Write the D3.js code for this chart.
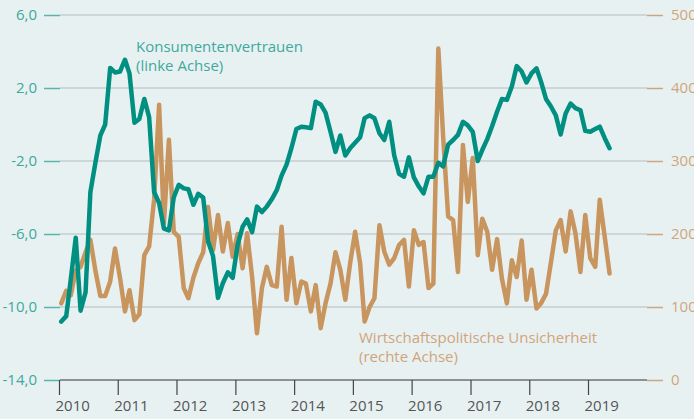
<!DOCTYPE html>
<html>
<head>
<meta charset="utf-8">
<script src="https://cdn.jsdelivr.net/npm/d3@7"></script>
<style>
  html, body { margin: 0; padding: 0; background: #e8f1f2; }
  svg text { font-family: "Open Sans", "Noto Sans", sans-serif; }
</style>
</head>
<body>
<div id="chart-area"></div>
<script>
// DATA
// =================
var startMonth = '2010-01';
var yearTicks = [2010, 2011, 2012, 2013, 2014, 2015, 2016, 2017, 2018, 2019];
var leftTicks = [6, 2, -2, -6, -10, -14];
var rightTicks = [500, 400, 300, 200, 100, 0];

// Konsumentenvertrauen (linke Achse), monthly from Jan 2010
var vertrauen = [
    -10.8, -10.5, -8.5, -6.2, -10.2, -9.2, -3.7, -2.1, -0.6, 0.0, 3.1, 2.85,
    2.9, 3.55, 2.8, 0.1, 0.3, 1.4, 0.4, -3.7, -4.3, -5.7, -5.8, -4.0,
    -3.3, -3.5, -3.55, -4.4, -3.8, -4.0, -6.4, -7.2, -9.5, -8.7, -8.1, -8.4,
    -6.6, -5.6, -5.2, -5.9, -4.5, -4.8, -4.5, -4.1, -3.6, -2.8, -2.2, -1.3,
    -0.25, -0.12, -0.15, -0.2, 1.25, 1.1, 0.65, -0.4, -1.5, -0.6, -1.7, -1.3,
    -1.0, -0.7, 0.35, 0.5, 0.34, -0.48, -0.85, 0.15, -1.7, -2.7, -2.86, -1.8,
    -2.9, -3.4, -3.77, -2.86, -2.86, -2.1, -2.3, -1.1, -0.85, -0.57, 0.15, -0.05,
    -0.4, -2.0, -1.4, -0.8, -0.1, 0.7, 1.4, 1.35, 2.1, 3.2, 2.9, 2.3,
    2.8, 3.08, 2.35, 1.4, 1.0, 0.5, -0.55, 0.6, 1.15, 0.9, 0.78, -0.35,
    -0.4, -0.25, -0.12, -0.75, -1.3
];

// Wirtschaftspolitische Unsicherheit (rechte Achse), monthly from Jan 2010
var unsicherheit = [
    105, 122, 116, 150, 155, 175, 192, 150, 115, 115, 135, 180,
    140, 94, 123, 82, 90, 171, 183, 247, 377, 215, 329, 203,
    196, 126, 112, 140, 160, 175, 237, 178, 226, 176, 215, 169,
    200, 153, 201, 141, 64, 126, 155, 130, 128, 210, 110, 167,
    105, 135, 132, 94, 130, 71, 105, 132, 175, 151, 110, 160,
    203, 160, 80, 100, 112, 212, 176, 158, 167, 185, 192, 128,
    205, 185, 189, 126, 132, 454, 333, 224, 219, 148, 322, 244,
    304, 171, 221, 203, 151, 193, 139, 105, 164, 141, 191, 110,
    151, 98, 105, 118, 160, 205, 219, 176, 231, 201, 148, 226,
    167, 155, 247, 196, 146
];

// CANVAS
// =================
var W = 694, H = 419;
var plotLeft = 60, plotRight = 647, plotTop = 15, plotBottom = 380;

var svg = d3.select('#chart-area')
    .append('svg')
        .attr('width', W)
        .attr('height', H);

var parseMonth = d3.timeParse('%Y-%m');
var months = d3.timeMonth.range(parseMonth(startMonth),
    d3.timeMonth.offset(parseMonth(startMonth), vertrauen.length))
    .map(d => d3.timeDay.offset(d, 14));

var x = d3.scaleTime()
    .domain([new Date(2010, 0, 1), new Date(2019, 0, 1)])
    .range([59, 588]);

var yL = d3.scaleLinear().domain([-14, 6]).range([plotBottom, plotTop]);
var yR = d3.scaleLinear().domain([0, 500]).range([plotBottom, plotTop]);

// GRID + Y AXES
// =================
svg.append('g')
    .selectAll('line')
    .data(leftTicks.filter(d => d !== -14))
    .enter().append('line')
        .attr('x1', plotLeft)
        .attr('x2', plotRight)
        .attr('y1', d => yL(d))
        .attr('y2', d => yL(d))
        .attr('stroke', '#c7cdcf')
        .attr('stroke-width', 1.5);

var leftAxis = d3.axisLeft(yL)
    .tickValues(leftTicks)
    .tickSize(16)
    .tickPadding(7)
    .tickFormat(d => d3.format('.1f')(d).replace('.', ',').replace('−', '-'));

svg.append('g')
    .attr('transform', 'translate(' + plotLeft + ',0)')
    .call(leftAxis)
    .call(g => g.select('.domain').remove())
    .call(g => g.selectAll('line').attr('stroke', '#57b5aa').attr('stroke-width', 1.5))
    .call(g => g.selectAll('text')
        .attr('fill', '#3ea99c')
        .attr('font-size', '15px'));

var rightAxis = d3.axisRight(yR)
    .tickValues(rightTicks)
    .tickSize(16)
    .tickPadding(8)
    .tickFormat(d3.format('d'));

svg.append('g')
    .attr('transform', 'translate(' + plotRight + ',0)')
    .call(rightAxis)
    .call(g => g.select('.domain').remove())
    .call(g => g.selectAll('line').attr('stroke', '#cfa67c').attr('stroke-width', 1.5))
    .call(g => g.selectAll('text')
        .attr('fill', '#cfa67c')
        .attr('font-size', '15px'));

// X AXIS
// =================
svg.append('line')
    .attr('x1', plotLeft)
    .attr('x2', plotRight)
    .attr('y1', plotBottom)
    .attr('y2', plotBottom)
    .attr('stroke', '#6e7274')
    .attr('stroke-width', 1.5);

var xAxis = d3.axisBottom(x)
    .tickValues(yearTicks.map(d => new Date(d, 0, 1)))
    .tickSize(15)
    .tickFormat(d3.timeFormat('%Y'));

svg.append('g')
    .attr('transform', 'translate(0,' + plotBottom + ')')
    .call(xAxis)
    .call(g => g.select('.domain').remove())
    .call(g => g.selectAll('line').attr('stroke', '#444').attr('stroke-width', 1.2))
    .call(g => g.selectAll('text')
        .attr('fill', '#555')
        .attr('font-size', '15px')
        .attr('text-anchor', 'start')
        .attr('dx', '-4')
        .attr('y', 20));

// LINES
// =================
var lineR = d3.line()
    .x((d, i) => x(months[i]))
    .y(d => yR(d));

var lineL = d3.line()
    .x((d, i) => x(months[i]))
    .y(d => yL(d));

svg.append('path')
    .datum(unsicherheit)
    .attr('d', lineR)
    .attr('fill', 'none')
    .attr('stroke', '#c8955f')
    .attr('stroke-width', 4.5)
    .attr('stroke-linejoin', 'round')
    .attr('stroke-linecap', 'round');

svg.append('path')
    .datum(vertrauen)
    .attr('d', lineL)
    .attr('fill', 'none')
    .attr('stroke', '#008f80')
    .attr('stroke-width', 4.5)
    .attr('stroke-linejoin', 'round')
    .attr('stroke-linecap', 'round');

// LABELS
// =================
var labelL = svg.append('text')
    .attr('x', 136)
    .attr('y', 52)
    .attr('fill', '#3ea99c')
    .attr('font-size', '15px');
labelL.append('tspan').attr('x', 136).text('Konsumentenvertrauen');
labelL.append('tspan').attr('x', 136).attr('dy', 19).text('(linke Achse)');

var labelR = svg.append('text')
    .attr('x', 359)
    .attr('y', 343)
    .attr('fill', '#d1a47a')
    .attr('font-size', '15px');
labelR.append('tspan').attr('x', 359).text('Wirtschaftspolitische Unsicherheit');
labelR.append('tspan').attr('x', 359).attr('dy', 19).text('(rechte Achse)');
</script>
</body>
</html>
